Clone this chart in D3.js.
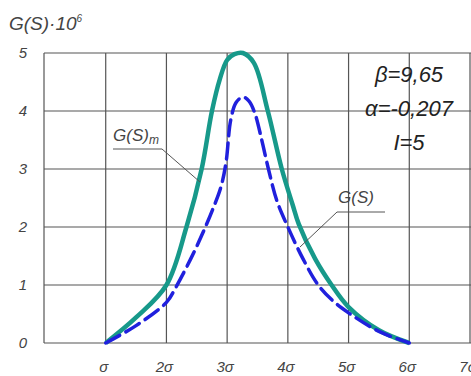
<!DOCTYPE html>
<html>
<head>
<meta charset="utf-8">
<script src="https://cdn.jsdelivr.net/npm/d3@7"></script>
<style>
  body { margin: 0; background: #fff; }
  text { font-family: "Liberation Sans", "DejaVu Sans", sans-serif; font-style: italic; fill: #444; }
</style>
</head>
<body>
<div id="chart"></div>
<script>
// x in units of sigma, y in G(S)*10^6
const xTicks = [1, 2, 3, 4, 5, 6, 7];
const xTickLabels = ['σ', '2σ', '3σ', '4σ', '5σ', '6σ', '7σ'];
const yTicks = [0, 1, 2, 3, 4, 5];

// G(S)т - solid teal
const gtX = [1, 1.5, 2, 2.33, 2.58, 2.75, 2.88, 3.0, 3.12, 3.26, 3.44, 3.67, 3.9, 4.08, 4.18, 4.45, 4.72, 5.0, 5.5, 6];
const gtY = [0, 0.44, 1.0, 2.0, 3.0, 4.0, 4.55, 4.88, 4.98, 5.0, 4.83, 4.0, 3.0, 2.38, 2.05, 1.45, 1.0, 0.62, 0.22, 0];

// G(S) - dashed blue
const gX = [1, 1.5, 2, 2.15, 2.4, 2.6, 2.78, 2.9, 2.98, 3.06, 3.15, 3.26, 3.36, 3.46, 3.57, 3.68, 3.82, 4.0, 4.25, 4.5, 4.75, 5.0, 5.5, 6];
const gY = [0, 0.3, 0.7, 0.95, 1.45, 1.9, 2.35, 2.7, 3.1, 3.85, 4.15, 4.24, 4.17, 3.95, 3.5, 3.0, 2.45, 2.0, 1.45, 1.0, 0.72, 0.52, 0.2, 0];

const width = 471, height = 376;

const svg = d3.select('#chart').append('svg')
  .attr('width', width)
  .attr('height', height);

const x = d3.scaleLinear().domain([0, 7]).range([45, 470]);
const y = d3.scaleLinear().domain([0, 5]).range([343, 53]);

// grid
const grid = svg.append('g').attr('stroke', '#555').attr('stroke-width', 1.2);
grid.selectAll('.hl').data(yTicks).enter().append('line')
  .attr('x1', x(0) - 1).attr('x2', width)
  .attr('y1', d => y(d)).attr('y2', d => y(d));
grid.selectAll('.vl').data(xTicks).enter().append('line')
  .attr('x1', d => x(d)).attr('x2', d => x(d))
  .attr('y1', y(5)).attr('y2', y(0));
grid.append('line')
  .attr('x1', x(0) - 1).attr('x2', x(0) - 1)
  .attr('y1', y(5)).attr('y2', y(0));

// tick labels
svg.selectAll('.ylab').data(yTicks).enter().append('text')
  .attr('x', 27).attr('y', d => y(d) + 5)
  .attr('text-anchor', 'end')
  .attr('font-size', 15)
  .text(d => d);

svg.selectAll('.xlab').data(xTicks).enter().append('text')
  .attr('x', d => x(d) - 2).attr('y', 372)
  .attr('text-anchor', 'middle')
  .attr('font-size', 15)
  .text((d, i) => xTickLabels[i]);

// axis title
const title = svg.append('text').attr('x', 9).attr('y', 30).attr('font-size', 19);
title.append('tspan').text('G(S)·10');
title.append('tspan').attr('dy', -8).attr('font-size', 10).text('6');

// curves
const line = d3.line()
  .x(d => x(d[0]))
  .y(d => y(d[1]))
  .curve(d3.curveCatmullRom.alpha(0.5));

svg.append('path')
  .datum(gtX.map((v, i) => [v, gtY[i]]))
  .attr('fill', 'none')
  .attr('stroke', '#17998a')
  .attr('stroke-width', 4.5)
  .attr('stroke-linejoin', 'round')
  .attr('d', line);

svg.append('path')
  .datum(gX.map((v, i) => [v, gY[i]]))
  .attr('fill', 'none')
  .attr('stroke', '#2020dd')
  .attr('stroke-width', 3.5)
  .attr('stroke-dasharray', '16,7')
  .attr('stroke-linecap', 'round')
  .attr('d', line);

// curve labels with leader lines
const lt = svg.append('text').attr('x', 113).attr('y', 141).attr('font-size', 17);
lt.append('tspan').text('G(S)');
lt.append('tspan').attr('dy', 3).attr('font-size', 12).text('т');
svg.append('polyline')
  .attr('points', '113,149 162,149 200,182')
  .attr('fill', 'none').attr('stroke', '#555').attr('stroke-width', 1);

svg.append('text').attr('x', 338).attr('y', 203).attr('font-size', 17).text('G(S)');
svg.append('polyline')
  .attr('points', '385,212 337,212 300,247')
  .attr('fill', 'none').attr('stroke', '#555').attr('stroke-width', 1);

// parameters
const params = ['β=9,65', 'α=-0,207', 'I=5'];
svg.selectAll('.par').data(params).enter().append('text')
  .attr('x', 409).attr('y', (d, i) => 82 + i * 34)
  .attr('text-anchor', 'middle')
  .attr('font-size', 22)
  .style('fill', '#222')
  .text(d => d);
</script>
</body>
</html>
